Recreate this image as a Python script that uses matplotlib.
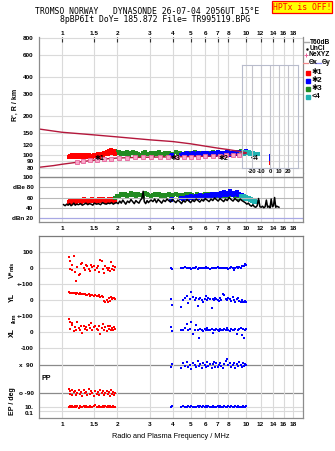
import numpy as np
import matplotlib
matplotlib.use('Agg')
import matplotlib.pyplot as plt

plt.rcParams['font.family'] = ['Liberation Sans', 'DejaVu Sans']

W, H = 335, 451

# frequency axis ticks (MHz)
freq_ticks = [1, 1.5, 2, 3, 4, 5, 6, 7, 8, 10, 12, 14, 16, 18]
freq_labels = ['1', '1.5', '2', '3', '4', '5', '6', '7', '8', '10', '12', '14', '16', '18']

# height profile lines (km)
up_f = [0.75, 1.0, 1.5, 2.0, 3.0, 4.0, 5.0, 6.0, 7.0, 8.0, 9.0, 10.0]
up_h = [160, 151, 144, 139, 132, 128, 123, 118, 114, 111, 108, 105]
lo_f = [0.75, 0.9, 1.0, 1.2, 1.4, 1.6, 1.8, 2.0, 2.5, 3.0, 4.0, 5.0, 6.0, 7.0, 8.0, 9.0, 10.0]
lo_h = [81, 83.5, 85.5, 88.5, 91, 93, 94.5, 95.5, 96.5, 97, 97.5, 98, 98.5, 99, 100, 101.5, 104]
ne_f = [1.2, 1.3, 1.42, 1.55, 1.7, 1.85, 2.05, 2.25, 2.5, 2.75, 3.05, 3.4, 3.75, 4.2, 4.6, 5.0,
        5.5, 6.0, 6.6, 7.2, 7.8, 8.5, 9.2]
ne_h = [88.5, 90, 91.5, 92.5, 93.5, 94.5, 95.5, 96, 96.5, 96.5, 97, 97, 97.5, 97.5, 98, 98,
        98, 98.5, 99, 99, 100, 100.5, 101.5]

# mode *1 (red)
red_f = [1.09, 1.10, 1.11, 1.13, 1.14, 1.16, 1.18, 1.19, 1.21, 1.23, 1.25, 1.27, 1.29, 1.31,
         1.33, 1.35, 1.37, 1.40, 1.42, 1.44, 1.46, 1.49, 1.51, 1.54, 1.56, 1.59, 1.61, 1.64,
         1.67, 1.69, 1.72, 1.75, 1.77, 1.80, 1.83, 1.85, 1.88, 1.90, 1.92, 1.94]
red_h = [98, 97, 99, 98, 100, 97, 99, 101, 98, 100, 99, 97, 101, 98, 100, 99, 98, 100, 97, 99,
         98, 101, 99, 100, 102, 98, 101, 103, 100, 104, 102, 106, 103, 108, 105, 110, 104, 107,
         109, 103]
red_db = [52, 54, 50, 53, 55, 51, 54, 52, 56, 53, 55, 51, 54, 57, 53, 55, 52, 56, 54, 53,
          57, 55, 52, 56, 54, 58, 53, 55, 57, 54, 56, 52, 55, 58, 54, 56, 53, 57, 55, 54]
red_v = [69, -4, 42, -15, 21, 73, -27, -83, 5, -42, -37, 27, 31, 0, -10, 21, 10, -6, -21, 21,
         4, 10, -15, 0, 15, -27, 52, 42, -6, -31, 10, 0, -10, 2, -20, 35, -5, 12, -15, 5]
red_yl = [48, 45, 44, 46, 42, 45, 43, 40, 44, 38, 41, 36, 40, 35, 38, 33, 30, 36, 28, 32,
          30, 26, 34, 22, 28, 30, 20, 25, 18, -5, -10, -2, -12, 15, -8, 20, 5, 14, 10, 8]
red_xl = [80, 65, 20, 55, 45, 5, 30, 10, 60, 25, 15, 40, -5, 35, 20, 30, 10, 45, 25, 55,
          15, 30, 40, 20, 10, 35, -10, 25, 50, 15, 30, 5, 40, 20, 35, 10, 25, 15, 30, 20]
red_pp = [-65, -80, -95, -70, -100, -85, -75, -105, -90, -68, -98, -82, -110, -72, -92, -86,
          -102, -66, -95, -78, -88, -108, -74, -96, -84, -100, -70, -92, -80, -104, -88, -76,
          -98, -86, -110, -72, -94, -82, -100, -90]
red_ep = [12, 8, 20, 10, 15, 9, 25, 11, 14, 7, 18, 10, 13, 22, 9, 16, 11, 8, 19, 12,
          10, 15, 28, 9, 13, 17, 10, 12, 21, 8, 14, 11, 16, 9, 24, 12, 10, 18, 13, 11]

# mode *2 (blue)
blue_f = [3.90, 3.95, 4.45, 4.55, 4.65, 4.75, 4.85, 4.95, 5.05, 5.15, 5.25, 5.35, 5.45, 5.55,
          5.65, 5.75, 5.85, 5.95, 6.05, 6.15, 6.25, 6.35, 6.5, 6.6, 6.7, 6.8, 6.9, 7.0, 7.1,
          7.2, 7.35, 7.5, 7.6, 7.75, 7.9, 8.0, 8.15, 8.3, 8.45, 8.6, 8.75, 8.9, 9.05, 9.2,
          9.35, 9.5, 9.65, 9.8, 9.9, 10.0]
blue_h = [99, 101, 100, 103, 101, 104, 102, 100, 103, 105, 101, 102, 104, 100, 103, 101, 105,
          102, 100, 104, 103, 101, 105, 102, 104, 100, 103, 106, 102, 104, 101, 105, 103, 102,
          106, 104, 101, 105, 103, 107, 104, 102, 106, 105, 103, 107, 104, 106, 105, 108]
blue_db = [56, 58, 60, 57, 59, 61, 58, 60, 62, 59, 61, 63, 60, 62, 64, 61, 63, 60, 65, 62,
           64, 61, 66, 63, 65, 62, 67, 64, 66, 63, 68, 65, 70, 66, 64, 68, 72, 67, 65, 69,
           66, 70, 64, 67, 63, 65, 60, 62, 58, 60]
blue_v = [0, -8, 2, 0, 4, -2, 0, 3, -6, 2, 0, 5, -4, 1, 3, 0, 2, -2, 4, 0, 1, -5, 3, 0, 2,
          -3, 0, 4, 1, -2, 0, 2, -1, 3, 0, -6, 1, 4, 0, -10, 2, 5, -3, 8, 3, 10, 12, 15, 25, 18]
blue_yl = [5, -30, -45, 0, 10, 25, -20, 5, 50, 20, 0, 10, -40, 5, 15, 0, -10, 5, 25, 0, 10, 5,
           -50, 5, 0, 15, 5, 0, -5, 10, 0, 35, 30, 5, 0, 10, 5, -5, 20, 0, -10, 5, 15, -5, -10,
           0, -15, -10, -5, -10]
blue_xl = [30, 5, 15, 10, 25, 50, 10, 20, 60, -15, 15, 45, 10, -40, 20, 15, 5, 20, 10, 25, 15,
           10, 20, -5, 15, 10, 20, 15, 5, 20, 10, 15, 20, 10, 25, 15, 5, 20, 15, 10, 20, -10,
           15, 20, 25, -20, 20, -35, 15, 20]
blue_pp = [80, 95, 70, 100, 85, 110, 75, 92, 65, 105, 88, 78, 115, 82, 96, 70, 102, 90, 76, 108,
           84, 98, 68, 94, 112, 80, 100, 74, 90, 106, 86, 72, 96, 118, 128, 92, 104, 78, 88, 100,
           70, 96, 84, 110, 90, 76, 102, 86, 98, 92]
blue_ep = [10, 14, 8, 20, 12, 9, 16, 11, 25, 10, 13, 8, 18, 12, 15, 9, 22, 11, 14, 10, 17, 8,
           12, 19, 10, 13, 9, 15, 11, 24, 12, 10, 16, 9, 13, 20, 11, 14, 8, 12, 18, 10, 15, 9,
           13, 11, 21, 12, 10, 14]

# mode *3 (green)
green_f = [1.95, 2.0, 2.05, 2.1, 2.15, 2.2, 2.25, 2.3, 2.36, 2.42, 2.48, 2.54, 2.6, 2.67, 2.74,
           2.81, 2.88, 2.95, 3.03, 3.11, 3.19, 3.27, 3.36, 3.45, 3.54, 3.63, 3.73, 3.83, 3.93,
           4.03, 4.14, 4.25, 4.36, 4.48, 4.6, 4.72, 4.85, 4.98, 5.11, 5.25, 5.39, 5.53, 5.68,
           5.83, 5.99, 6.15, 6.31, 6.48, 6.65, 6.83, 7.01, 7.2, 7.39, 7.59, 7.79, 8.0, 8.21,
           8.43, 8.66, 8.89, 9.13, 9.37]
green_h = [108, 104, 106, 102, 105, 103, 107, 101, 104, 106, 102, 105, 103, 100, 104, 106, 102,
           103, 105, 101, 104, 102, 106, 103, 100, 105, 102, 104, 101, 103, 106, 102, 104, 100,
           103, 105, 101, 104, 102, 106, 103, 101, 104, 102, 105, 103, 100, 104, 106, 102, 103,
           105, 101, 104, 102, 107, 103, 105, 102, 106, 104, 108]
green_db = [60, 63, 62, 66, 64, 67, 63, 65, 68, 64, 66, 62, 67, 65, 63, 68, 66, 64, 62, 65, 67,
            64, 66, 63, 65, 62, 64, 66, 63, 65, 67, 64, 62, 65, 63, 66, 64, 67, 65, 63, 66, 64,
            62, 65, 67, 63, 66, 64, 65, 67, 63, 66, 64, 62, 65, 63, 66, 64, 61, 63, 60, 62]

# mode <4 (cyan)
cyan_f = [9.45, 9.6, 9.75, 9.9, 10.05, 10.2, 10.35, 10.5, 10.65, 10.8, 10.95, 11.1, 11.25, 11.4, 11.55]
cyan_h = [104, 106, 103, 105, 107, 104, 106, 103, 105, 102, 104, 103, 102, 103, 102]
cyan_db = [62, 60, 63, 58, 61, 57, 59, 55, 57, 54, 55, 52, 53, 51, 52]

# unclassified echo amplitude (black)
amp_f = [1.02, 1.04, 1.06, 1.08, 1.10, 1.12, 1.14, 1.16, 1.18, 1.20, 1.23, 1.26, 1.29, 1.32,
         1.35, 1.38, 1.41, 1.44, 1.47, 1.50, 1.54, 1.58, 1.62, 1.66, 1.70, 1.74, 1.78, 1.82,
         1.86, 1.90, 1.94,
         1.98, 2.02, 2.06, 2.10, 2.14, 2.18, 2.22, 2.27, 2.32, 2.37, 2.42, 2.47, 2.52, 2.57,
         2.62, 2.67, 2.72, 2.76, 2.80, 2.85, 2.90, 2.95, 3.00,
         3.05, 3.12, 3.19, 3.26, 3.33, 3.40, 3.48, 3.56, 3.64, 3.72, 3.80, 3.89, 3.98, 4.07,
         4.16, 4.26, 4.36, 4.46, 4.56, 4.67, 4.78, 4.89, 5.0, 5.12, 5.24, 5.36, 5.48, 5.61,
         5.74, 5.87, 6.0, 6.15, 6.3, 6.45, 6.6, 6.75, 6.9, 7.06, 7.22, 7.39, 7.56, 7.73, 7.9,
         8.1, 8.3, 8.5, 8.7, 8.9, 9.1, 9.3, 9.5,
         9.7, 9.9, 10.1, 10.3, 10.5, 10.7, 10.9, 11.1, 11.3, 11.5, 11.7, 11.9, 12.1, 12.3,
         12.5, 12.7, 12.9, 13.1, 13.3, 13.5, 13.7, 13.9, 14.1, 14.3, 14.5, 14.7, 14.9, 15.1]
amp_db = [46, 44, 47, 45, 48, 44, 46, 49, 45, 47, 46, 48, 45, 47, 49, 46, 48, 47, 45, 49, 47,
          48, 46, 50, 48, 47, 49, 48, 50, 47, 49,
          50, 48, 53, 49, 55, 51, 47, 53, 50, 56, 52, 48, 54, 51, 49, 55, 58, 72, 52, 48, 54,
          50, 53,
          55, 52, 57, 50, 56, 53, 49, 55, 52, 57, 54, 51, 56, 53, 50, 55, 52, 48, 54, 51, 56,
          53, 50, 55, 52, 57, 54, 51, 56, 53, 58, 55, 52, 57, 54, 59, 56, 53, 58, 55, 52, 57,
          54, 60, 56, 53, 58, 55, 52, 57, 54,
          52, 50, 47, 49, 45, 43, 46, 42, 41, 44, 58, 42, 41, 43, 40, 42, 55, 41, 43, 40, 57,
          42, 44, 60, 41, 43, 42, 41]

# tilt inset
tilt_red_h = [86, 88, 90, 92, 94, 96, 98, 100]
tilt_red = [0.5, 0.5, 0.5, 0.5, 0.5, 0.5, 0.5, 0.5]
tilt_blue_h = [92, 94, 96, 98, 100]
tilt_blue = [-0.5, -0.5, -0.5, -0.5, -0.5]

RED, BLUE, GREEN, CYAN = '#ff0000', '#0000ff', '#228b22', '#20b2b2'
CRIMSON, PINK = '#b4183c', '#e8609a'
GRID, SPINE = '#dadada', '#8c8c8c'
TICKFS = 4.6
MS = 3.2


def pos(x0, y0, x1, y1):
    return [x0 / W, 1 - y1 / H, (x1 - x0) / W, (y1 - y0) / H]


def freq_axis(ax):
    ax.set_xscale('log')
    ax.set_xlim(0.75, 20.4)
    ax.set_xticks(freq_ticks)
    ax.set_xticklabels(freq_labels, fontsize=TICKFS, fontweight='bold')
    ax.xaxis.set_minor_locator(matplotlib.ticker.NullLocator())
    ax.grid(axis='x', color=GRID, lw=0.8)
    ax.set_axisbelow(True)
    for s in ax.spines.values():
        s.set_color(SPINE)
        s.set_linewidth(0.9)


fig = plt.figure(figsize=(W / 100, H / 100), dpi=100)

# ---- heights panel
ax_h = fig.add_axes(pos(39, 37, 303, 173))
freq_axis(ax_h)
ax_h.set_yscale('log')
ax_h.set_ylim(73.2, 821)
hticks = [80, 90, 100, 120, 150, 200, 300, 400, 600, 800]
ax_h.set_yticks(hticks)
ax_h.set_yticklabels([str(t) for t in hticks], fontsize=TICKFS, fontweight='bold')
ax_h.yaxis.set_minor_locator(matplotlib.ticker.NullLocator())
ax_h.tick_params(axis='y', length=0, pad=4)
ax_h.tick_params(axis='x', top=True, bottom=False, labeltop=True, labelbottom=False,
                 direction='in', length=3.5, width=0.8, color='#333333', pad=1)
ax_h.grid(axis='y', color=GRID, lw=0.8)
ax_h.spines['top'].set_visible(False)
ax_h.spines['bottom'].set_visible(False)
ax_h.plot(up_f, up_h, color=CRIMSON, lw=1)
ax_h.plot(lo_f, lo_h, color=CRIMSON, lw=1)
ax_h.plot(ne_f, ne_h, ls='none', marker='s', ms=2.2, mfc='#f6a8c8', mec=PINK, mew=0.6)
ax_h.scatter(green_f, green_h, s=5, marker='s', color=GREEN, lw=0)
ax_h.scatter(blue_f, blue_h, s=5, marker='s', color=BLUE, lw=0)
ax_h.scatter(red_f, red_h, s=6, marker='s', color=RED, lw=0)
ax_h.scatter(cyan_f, cyan_h, s=6, marker='s', color=CYAN, lw=0)
for f, h, t in [(1.6, 94, '\u27311'), (4.15, 94.5, '\u27313'), (7.5, 94, '\u27312'), (11.1, 95, '<4')]:
    ax_h.text(f, h, t, fontsize=5, fontweight='bold', ha='center', va='center', color='black')
ax_h.set_ylabel("R', R / km", fontsize=5, fontweight='bold', labelpad=3)

# ---- tilt inset
ax_t = fig.add_axes(pos(242, 65, 298, 168))
ax_t.patch.set_alpha(0)
ax_t.set_yscale('log')
ax_t.set_ylim(80, 499)
ax_t.set_yticks([])
ax_t.yaxis.set_minor_locator(matplotlib.ticker.NullLocator())
ax_t.set_xlim(-31, 31)
ax_t.set_xticks([-20, -10, 0, 10, 20])
ax_t.set_xticklabels(['-20', '-10', '0', '10', '20'], fontsize=4.2, fontweight='bold')
ax_t.tick_params(length=0, pad=0.8)
ax_t.grid(axis='x', color='#c4c4cc', lw=0.8)
for s in ax_t.spines.values():
    s.set_color('#b8bccc')
ax_t.set_xlabel('Tilt / deg', fontsize=4.2, fontweight='bold', labelpad=0)
ax_t.scatter(tilt_red, tilt_red_h, s=3, marker='s', color=RED, lw=0)
ax_t.scatter(tilt_blue, tilt_blue_h, s=3, marker='s', color=BLUE, lw=0)

# ---- amplitude panel
ax_a = fig.add_axes(pos(39, 173, 303, 222))
freq_axis(ax_a)
ax_a.set_ylim(12.2, 107.8)
ax_a.set_yticks([20, 40, 60, 80, 100])
ax_a.set_yticklabels(['dBn 20', '40', '60', 'dBe 80', '100'], fontsize=TICKFS, fontweight='bold')
ax_a.tick_params(axis='y', length=0, pad=4)
ax_a.tick_params(axis='x', length=0, pad=3)
ax_a.spines['top'].set_visible(False)
ax_a.axhline(100, color='#8a8a8a', lw=1)
for v in [40, 60, 80]:
    ax_a.axhline(v, color='#b8b8b8', lw=0.8)
ax_a.axhline(20, color='#a8a8e4', lw=0.9)
ax_a.plot(amp_f, amp_db, color='black', lw=1.1)
ax_a.scatter(red_f, red_db, s=5, marker='s', color=RED, lw=0)
ax_a.scatter(green_f, green_db, s=5, marker='s', color=GREEN, lw=0)
ax_a.scatter(blue_f, blue_db, s=5, marker='s', color=BLUE, lw=0)
ax_a.scatter(cyan_f, cyan_db, s=5, marker='s', color=CYAN, lw=0)

# ---- drift / polarisation panel (rows stacked in one axes)
V_ROW, YL_ROW, XL_ROW, PP_ROW, EP_ROW = 268, 300, 332, 379, 407
KM = 0.16            # row units per m/s or km
PPK = 28 / 180       # row units per degree
EPK = 3.5            # row units per decade


def vrow(vals, row):
    return row - KM * np.asarray(vals, dtype=float)


def pprow(vals):
    return PP_ROW - PPK * np.asarray(vals, dtype=float)


def eprow(vals):
    return EP_ROW - EPK * np.log10(np.asarray(vals, dtype=float) / 10)


ax_l = fig.add_axes(pos(39, 236, 303, 418))
freq_axis(ax_l)
ax_l.set_ylim(418, 236)
lticks = [252, 268, 284, 300, 316, 332, 348, 365, 393, 407, 413]
llabels = ['100', '0', '+-100', '0', '+-100', '0', '-100', 'x  90', 'o -90', '10.', '0.1']
ax_l.set_yticks(lticks)
ax_l.set_yticklabels(llabels, fontsize=TICKFS, fontweight='bold')
ax_l.tick_params(axis='y', length=0, pad=4)
ax_l.tick_params(axis='x', length=0, pad=3)
for v in [252, 268, 284, 300, 316, 332, 348, 407, 411]:
    ax_l.axhline(v, color=GRID, lw=0.8, zorder=0)
for v in [365, 393]:
    ax_l.axhline(v, color='#8a8a8a', lw=0.9, zorder=0)
ax_l.spines['top'].set_color('#7a7a7a')
for f, vals, row in [(red_f, red_v, V_ROW), (red_f, red_yl, YL_ROW), (red_f, red_xl, XL_ROW)]:
    ax_l.scatter(f, vrow(vals, row), s=MS, marker='s', color=RED, lw=0)
for f, vals, row in [(blue_f, blue_v, V_ROW), (blue_f, blue_yl, YL_ROW), (blue_f, blue_xl, XL_ROW)]:
    ax_l.scatter(f, vrow(vals, row), s=MS, marker='s', color=BLUE, lw=0)
ax_l.scatter(red_f, pprow(red_pp), s=MS, marker='s', color=RED, lw=0)
ax_l.scatter(blue_f, pprow(blue_pp), s=MS, marker='s', color=BLUE, lw=0)
ax_l.scatter(red_f, eprow(red_ep), s=MS, marker='s', color=RED, lw=0)
ax_l.scatter(blue_f, eprow(blue_ep), s=MS, marker='s', color=BLUE, lw=0)
ax_l.set_xlabel('Radio and Plasma Frequency / MHz', fontsize=5.3, labelpad=4)

# ---- side labels
def ftext(x, y, s, **kw):
    fig.text(x / W, 1 - y / H, s, ha='center', va='center', **kw)


ftext(12, 274, 'V*', fontsize=5, fontweight='bold', rotation=90)
ftext(12, 266, 'm/s', fontsize=3.8, fontweight='bold', rotation=90)
ftext(12, 298, 'YL', fontsize=5, fontweight='bold', rotation=90)
ftext(14, 318, '/km', fontsize=4, fontweight='bold', rotation=90)
ftext(12, 333, 'XL', fontsize=5, fontweight='bold', rotation=90)
ftext(46, 379, 'PP', fontsize=5, fontweight='bold')
ftext(12, 401, 'EP / deg', fontsize=5, fontweight='bold', rotation=90)

# ---- titles
fig.text(35 / W, 1 - 12 / H, 'TROMSO NORWAY   DYNASONDE 26-07-04 2056UT 15\u00b0E',
         family='DejaVu Sans Mono', fontsize=5.9, va='center', ha='left')
fig.text(60 / W, 1 - 20 / H, '8pBP6It DoY= 185.872 File= TR995119.BPG',
         family='DejaVu Sans Mono', fontsize=5.9, va='center', ha='left')
fig.text(302 / W, 1 - 7 / H, 'HPTx is OFF!', family='DejaVu Sans Mono', fontsize=5.9,
         va='center', ha='center', color='red',
         bbox=dict(boxstyle='square,pad=0.15', fc='#ffff00', ec='red', lw=0.9))

# ---- key
ax_k = fig.add_axes(pos(303, 35, 335, 105))
ax_k.set_xlim(303, 335)
ax_k.set_ylim(105, 35)
ax_k.axis('off')
kfs = 4.8
ax_k.plot([303.5, 309], [42, 42], color='#a8a8a8', lw=1)
ax_k.text(309.5, 42, 'T60dB', fontsize=kfs, fontweight='bold', va='center')
ax_k.plot([306.5], [48.5], marker='.', ms=1.5, color='black')
ax_k.text(309.5, 48.5, 'UnCl', fontsize=kfs, fontweight='bold', va='center')
ax_k.plot([306], [55], marker='+', ms=3.2, color=PINK, mew=0.7)
ax_k.text(308.5, 55, 'NeXYZ', fontsize=kfs, fontweight='bold', va='center')
ax_k.plot([303, 308], [62.5, 62.5], color='#f08a8a', lw=0.9)
ax_k.text(308.5, 62.5, '\u0398x', fontsize=kfs, fontweight='bold', va='center')
ax_k.plot([315, 321], [62.5, 62.5], color='#8a8af0', lw=0.9)
ax_k.text(321.5, 62.5, '\u0398y', fontsize=kfs, fontweight='bold', va='center')
for y, c, t in [(73, RED, '\u27311'), (80.5, BLUE, '\u27312'), (88.5, GREEN, '\u27313'), (97, CYAN, '<4')]:
    ax_k.plot([307.5], [y], marker='s', ms=2.2, color=c, ls='none')
    ax_k.text(311.5, y, t, fontsize=5.5, fontweight='bold', va='center')

fig.savefig('out.png', dpi=100)
